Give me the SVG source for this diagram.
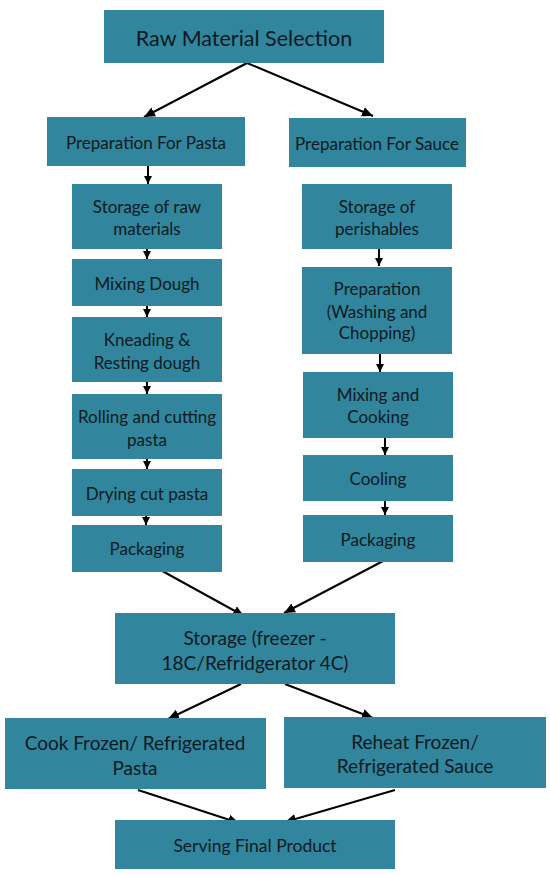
<svg xmlns="http://www.w3.org/2000/svg" width="550" height="877" viewBox="0 0 550 877">
<defs>
<marker id="ah" markerUnits="userSpaceOnUse" markerWidth="12" markerHeight="10" refX="11" refY="5" orient="auto">
<path d="M0,0 L11,5 L0,10 Z" fill="#000"/>
</marker>
<marker id="ahs" markerUnits="userSpaceOnUse" markerWidth="9" markerHeight="8" refX="8" refY="4" orient="auto">
<path d="M0,0 L8,4 L0,8 Z" fill="#000"/>
</marker>
<style>
.b{fill:#31859c;}
text{font-family:Lato,"Open Sans","Liberation Sans",sans-serif;fill:#0e1a22;text-anchor:middle;}
.t15{font-size:17px;}
.t16{font-size:19px;}
.ts{font-size:17.5px;}
.t19{font-size:21.5px;}
.c line{stroke:#000;stroke-width:2;}
.c .d{marker-end:url(#ah);}
.c .v{marker-end:url(#ahs);}
</style>
</defs>
<rect width="550" height="877" fill="#fff"/>
<g class="c" id="connectors">
<line class="d" x1="247" y1="63" x2="144" y2="117"/>
<line class="d" x1="247" y1="63" x2="373" y2="116"/>
<line class="v" x1="148" y1="166" x2="148" y2="184"/>
<line class="v" x1="147" y1="249" x2="147" y2="259"/>
<line class="v" x1="147" y1="306" x2="147" y2="317"/>
<line class="v" x1="147" y1="382" x2="147" y2="394"/>
<line class="v" x1="147" y1="459" x2="147" y2="469"/>
<line class="v" x1="146" y1="516" x2="146" y2="525"/>
<line class="v" x1="379" y1="249" x2="379" y2="266"/>
<line class="v" x1="380" y1="354" x2="380" y2="372"/>
<line class="v" x1="385" y1="438" x2="385" y2="455"/>
<line class="v" x1="385" y1="501" x2="385" y2="515"/>
<line class="d" x1="155" y1="567" x2="244" y2="616"/>
<line class="d" x1="385" y1="560" x2="284" y2="613"/>
<line class="d" x1="241" y1="684" x2="168" y2="719"/>
<line class="d" x1="285" y1="684" x2="373" y2="718"/>
<line class="d" x1="138" y1="790" x2="239" y2="823"/>
<line class="d" x1="395" y1="790" x2="285" y2="822"/>
</g>
<g id="raw"><rect class="b" x="104" y="10" width="280" height="53"/><text class="t19" x="244" y="45.5">Raw Material Selection</text></g>
<g id="prep-pasta"><rect class="b" x="47" y="117" width="198" height="49"/><text class="t15" x="146" y="149">Preparation For Pasta</text></g>
<g id="prep-sauce"><rect class="b" x="289" y="118" width="177" height="49"/><text class="t15" x="377" y="150">Preparation For Sauce</text></g>
<g id="storage-raw"><rect class="b" x="72" y="184" width="150" height="65"/><text class="t15" x="147" y="213">Storage of raw</text><text class="t15" x="147" y="235">materials</text></g>
<g id="mixing-dough"><rect class="b" x="72" y="259" width="150" height="47"/><text class="t15" x="147" y="290">Mixing Dough</text></g>
<g id="kneading"><rect class="b" x="72" y="317" width="150" height="65"/><text class="t15" x="147" y="346">Kneading &amp;</text><text class="t15" x="147" y="369">Resting dough</text></g>
<g id="rolling"><rect class="b" x="72" y="394" width="150" height="65"/><text class="t15" x="147" y="423">Rolling and cutting</text><text class="t15" x="147" y="446">pasta</text></g>
<g id="drying"><rect class="b" x="72" y="469" width="150" height="47"/><text class="t15" x="147" y="500">Drying cut pasta</text></g>
<g id="pack-pasta"><rect class="b" x="72" y="525" width="150" height="47"/><text class="t15" x="147" y="555">Packaging</text></g>
<g id="storage-perish"><rect class="b" x="302" y="184" width="150" height="65"/><text class="t15" x="377" y="213">Storage of</text><text class="t15" x="377" y="235">perishables</text></g>
<g id="prep-wash"><rect class="b" x="302" y="267" width="150" height="87"/><text class="t15" x="377" y="295">Preparation</text><text class="t15" x="377" y="318">(Washing and</text><text class="t15" x="377" y="339">Chopping)</text></g>
<g id="mix-cook"><rect class="b" x="303" y="372" width="150" height="66"/><text class="t15" x="378" y="401">Mixing and</text><text class="t15" x="378" y="423">Cooking</text></g>
<g id="cooling"><rect class="b" x="303" y="455" width="150" height="46"/><text class="t15" x="378" y="485">Cooling</text></g>
<g id="pack-sauce"><rect class="b" x="303" y="515" width="150" height="47"/><text class="t15" x="378" y="546">Packaging</text></g>
<g id="storage-freezer"><rect class="b" x="115" y="613" width="280" height="71"/><text class="t16" x="255" y="645">Storage (freezer -</text><text class="t16" x="255" y="670">18C/Refridgerator 4C)</text></g>
<g id="cook"><rect class="b" x="5" y="718" width="261" height="71"/><text class="t16" x="135" y="750">Cook Frozen/ Refrigerated</text><text class="t16" x="135" y="775">Pasta</text></g>
<g id="reheat"><rect class="b" x="284" y="717" width="262" height="71"/><text class="t16" x="415" y="749">Reheat Frozen/</text><text class="t16" x="415" y="773">Refrigerated Sauce</text></g>
<g id="serving"><rect class="b" x="115" y="820" width="280" height="49"/><text class="ts" x="255" y="852">Serving Final Product</text></g>
</svg>
